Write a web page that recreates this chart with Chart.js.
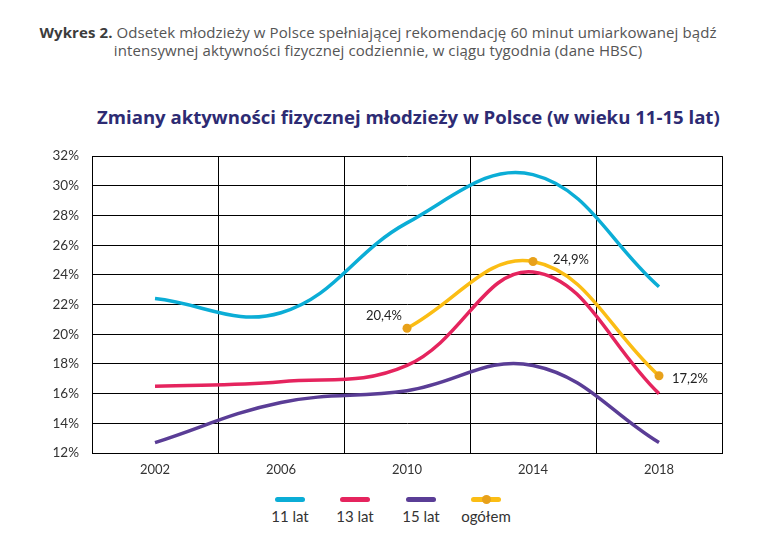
<!DOCTYPE html>
<html lang="pl">
<head>
<meta charset="utf-8">
<script src="https://cdn.jsdelivr.net/npm/chart.js@4"></script>
<style>
  body { margin: 0; width: 776px; height: 540px; background: #fff; position: relative; overflow: hidden; font-family: Lato, sans-serif; }
  .header { position: absolute; top: 23px; left: 0; width: 756px; text-align: center; font-family: "Open Sans", sans-serif; font-size: 15px; line-height: 18px; color: #555; letter-spacing: 0.1px; }
  .header b { color: #3c3c3c; }
  .title { position: absolute; top: 104px; left: 97px; font-family: "Open Sans", sans-serif; font-size: 17px; font-weight: 700; color: #2d2b73; white-space: nowrap; }
  .chartbox { position: absolute; left: 0; top: 135px; width: 776px; height: 348px; }
  .legend { position: absolute; top: 497px; left: 0; width: 776px; height: 40px; }
  .legend .item { position: absolute; width: 70px; margin-left: -35px; text-align: center; font-size: 15px; color: #333; }
  .legend .line { display: block; width: 30px; height: 5px; border-radius: 3px; margin: 0 auto 5px; position: relative; }
  .legend .dot { position: absolute; left: 11px; top: -2px; width: 9px; height: 9px; border-radius: 50%; }
</style>
</head>
<body>
<div class="header"><b>Wykres 2.</b> Odsetek młodzieży w Polsce spełniającej rekomendację 60 minut umiarkowanej bądź<br>intensywnej aktywności fizycznej codziennie, w ciągu tygodnia (dane HBSC)</div>
<div class="title" id="title">Zmiany aktywności fizycznej młodzieży w Polsce (w wieku 11-15 lat)</div>
<div class="chartbox"><canvas id="chart"></canvas></div>
<div class="legend" id="legend"></div>
<script>
// lata badania HBSC
const years = ['2002', '2006', '2010', '2014', '2018'];

// odsetek (%) wg wieku
const lat11 = [22.4, 21.45, 27.5, 30.75, 23.2];
const lat13 = [16.5, 16.8, 17.9, 24.2, 16.0];
const lat15 = [12.7, 15.4, 16.2, 17.9, 12.7];
const ogolem = [null, null, 20.4, 24.9, 17.2];

const seriesNames = ['11 lat', '13 lat', '15 lat', 'ogółem'];
const seriesColors = ['#0badd6', '#e5245e', '#5a3d96', '#fbbd14'];
const pointColor = '#e8a11a';

// y axis ticks
const yMin = 12;
const yMax = 32;
const yStep = 2;

// podpisy wartości dla serii ogółem (index -> offset)
const labelOffsets = [null, null, { dx: -23, dy: -12, align: 'center' }, { dx: 20, dy: -2, align: 'left' }, { dx: 13, dy: 3, align: 'left' }];

const valueLabels = {
  id: 'valueLabels',
  afterDatasetsDraw (chart) {
    const ctx = chart.ctx;
    const meta = chart.getDatasetMeta(3);
    ctx.save();
    ctx.font = '13px Lato, sans-serif';
    ctx.fillStyle = '#222';
    ctx.textBaseline = 'middle';
    meta.data.forEach((pt, i) => {
      const v = ogolem[i];
      const o = labelOffsets[i];
      if (v == null || !o) return;
      ctx.textAlign = o.align;
      ctx.fillText(v.toFixed(1).replace('.', ',') + '%', pt.x + o.dx, pt.y + o.dy);
    });
    ctx.restore();
  }
};

const mk = (i, data, extra) => Object.assign({
  label: seriesNames[i],
  data: data,
  borderColor: seriesColors[i],
  backgroundColor: seriesColors[i],
  borderWidth: 3.5,
  tension: 0.4,
  pointRadius: 0,
  fill: false
}, extra || {});

const chart = new Chart(document.getElementById('chart'), {
  type: 'line',
  data: {
    labels: years,
    datasets: [
      mk(0, lat11),
      mk(1, lat13),
      mk(2, lat15),
      mk(3, ogolem, { pointRadius: 4.5, pointBackgroundColor: pointColor, pointBorderColor: pointColor, pointBorderWidth: 0 })
    ]
  },
  options: {
    responsive: true,
    maintainAspectRatio: false,
    animation: false,
    layout: { padding: { top: 9, right: 54, left: 0, bottom: 0 } },
    plugins: {
      legend: { display: false },
      tooltip: { enabled: false }
    },
    scales: {
      x: {
        offset: true,
        grid: { offset: true, color: '#000', lineWidth: 1, drawTicks: false },
        border: { color: '#000', width: 1 },
        ticks: { color: '#333', font: { family: 'Lato', size: 13 }, padding: 9 },
        afterFit (s) { s.height = 30; }
      },
      y: {
        min: yMin,
        max: yMax,
        grid: { color: '#000', lineWidth: 1, drawTicks: false },
        border: { color: '#000', width: 1 },
        ticks: {
          stepSize: yStep,
          color: '#333',
          font: { family: 'Lato', size: 13.5 },
          padding: 13,
          callback: v => v + '%'
        },
        afterFit (s) { s.width = 92; }
      }
    }
  },
  plugins: [valueLabels]
});

// tytuł dopasowany do szerokości obszaru wykresu
const title = document.getElementById('title');
const tw = title.getBoundingClientRect().width;
title.style.fontSize = (17 * 623 / tw).toFixed(2) + 'px';

// legenda pod wykresem
const legendX = [290, 355, 421, 486];
const legend = document.getElementById('legend');
seriesNames.forEach((name, i) => {
  const it = document.createElement('div');
  it.className = 'item';
  it.style.left = legendX[i] + 'px';
  const ln = document.createElement('span');
  ln.className = 'line';
  ln.style.background = seriesColors[i];
  if (i === 3) {
    const d = document.createElement('span');
    d.className = 'dot';
    d.style.background = pointColor;
    ln.appendChild(d);
  }
  it.appendChild(ln);
  it.appendChild(document.createTextNode(name));
  legend.appendChild(it);
});
</script>
</body>
</html>
